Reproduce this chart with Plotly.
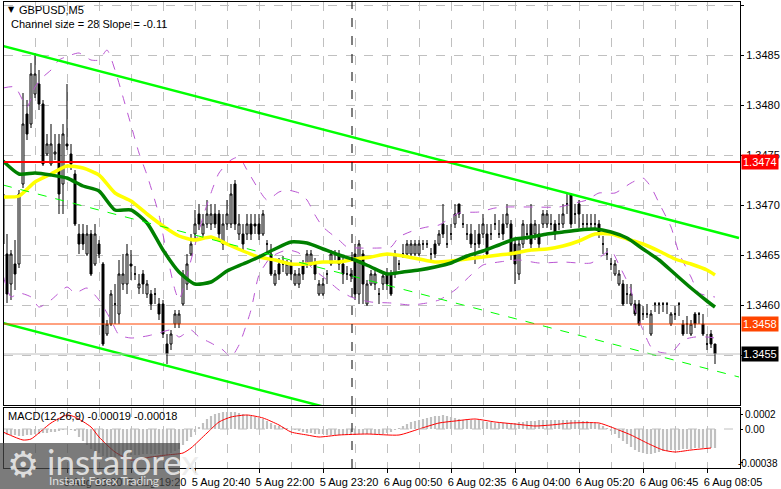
import plotly.graph_objects as go

W, H = 781, 489

# ---- GBPUSD M5 candles (one entry per bar, gaps in time are skipped like the terminal does)
opens = [1.34711, 1.34651, 1.34621, 1.34641, 1.34641, 1.34721, 1.34791, 1.34781, 1.34811, 1.34821,
         1.34801, 1.34751, 1.34741, 1.34751, 1.34761, 1.34721, 1.34761, 1.34751, 1.34731, 1.34671,
         1.34671, 1.34651, 1.34671, 1.34641, 1.34661, 1.34641, 1.34571, 1.34581, 1.34601, 1.34591,
         1.34621, 1.34621, 1.34641, 1.34631, 1.34617, 1.34631, 1.34611, 1.34611, 1.34611, 1.34601,
         1.34601, 1.34561, 1.34561, 1.34581, 1.34581, 1.34601, 1.34621, 1.34651, 1.34671, 1.34691,
         1.34671, 1.34681, 1.34681, 1.34691, 1.34691, 1.34661, 1.34681, 1.34681, 1.34721, 1.34671,
         1.34671, 1.34671, 1.34681, 1.34681, 1.34681, 1.34671, 1.34661, 1.34651, 1.34621, 1.34641,
         1.34641, 1.34631, 1.34641, 1.34621, 1.34621, 1.34641, 1.34641, 1.34641, 1.34641, 1.34611,
         1.34611, 1.34631, 1.34641, 1.34651, 1.34651, 1.34641, 1.34631, 1.34631, 1.34651, 1.34611,
         1.34651, 1.34601, 1.34621, 1.34621, 1.34611, 1.34621, 1.34631, 1.34631, 1.34631, 1.34641,
         1.34651, 1.34651, 1.34651, 1.34651, 1.34651, 1.34661, 1.34661, 1.34651, 1.34661, 1.34661,
         1.34681, 1.34661, 1.34671, 1.34681, 1.34701, 1.34681, 1.34671, 1.34671, 1.34661, 1.34671,
         1.34671, 1.34671, 1.34671, 1.34681, 1.34671, 1.34681, 1.34681, 1.34681, 1.34661, 1.34631,
         1.34661, 1.34671, 1.34681, 1.34671, 1.34671, 1.34681, 1.34681, 1.34681, 1.34681, 1.34681,
         1.34681, 1.34701, 1.34711, 1.34691, 1.34701, 1.34681, 1.34681, 1.34681, 1.34681, 1.34681,
         1.34661, 1.34651, 1.34641, 1.34631, 1.34621, 1.34621, 1.34611, 1.34601, 1.34601, 1.34601,
         1.34591, 1.34591, 1.34571, 1.34601, 1.34601, 1.34601, 1.34601, 1.34581, 1.34591, 1.34601,
         1.34581, 1.34581, 1.34571, 1.34591, 1.34591, 1.34581, 1.34561, 1.34571, 1.34561]
highs = [1.34715, 1.34671, 1.34655, 1.34665, 1.34715, 1.34812, 1.34805, 1.34842, 1.34852, 1.34835,
         1.34805, 1.34771, 1.34781, 1.34771, 1.34771, 1.34781, 1.34821, 1.34761, 1.34735, 1.34681,
         1.34681, 1.34680, 1.34675, 1.34681, 1.34665, 1.34643, 1.34585, 1.34615, 1.34621, 1.34645,
         1.34651, 1.34661, 1.34655, 1.34639, 1.34631, 1.34635, 1.34625, 1.34615, 1.34617, 1.34607,
         1.34605, 1.34571, 1.34575, 1.34595, 1.34595, 1.34635, 1.34651, 1.34671, 1.34695, 1.34701,
         1.34691, 1.34705, 1.34701, 1.34701, 1.34695, 1.34691, 1.34705, 1.34721, 1.34725, 1.34691,
         1.34681, 1.34691, 1.34691, 1.34691, 1.34691, 1.34695, 1.34665, 1.34661, 1.34635, 1.34647,
         1.34649, 1.34645, 1.34645, 1.34635, 1.34637, 1.34645, 1.34655, 1.34655, 1.34647, 1.34625,
         1.34627, 1.34635, 1.34655, 1.34655, 1.34655, 1.34647, 1.34639, 1.34637, 1.34661, 1.34665,
         1.34655, 1.34625, 1.34635, 1.34635, 1.34617, 1.34633, 1.34637, 1.34635, 1.34655, 1.34645,
         1.34661, 1.34665, 1.34665, 1.34665, 1.34665, 1.34665, 1.34665, 1.34657, 1.34665, 1.34675,
         1.34701, 1.34680, 1.34681, 1.34701, 1.34701, 1.34691, 1.34681, 1.34681, 1.34675, 1.34681,
         1.34691, 1.34681, 1.34681, 1.34691, 1.34685, 1.34691, 1.34701, 1.34685, 1.34665, 1.34665,
         1.34685, 1.34681, 1.34701, 1.34685, 1.34681, 1.34695, 1.34695, 1.34691, 1.34685, 1.34691,
         1.34701, 1.34711, 1.34711, 1.34701, 1.34705, 1.34691, 1.34691, 1.34691, 1.34691, 1.34685,
         1.34669, 1.34657, 1.34647, 1.34645, 1.34635, 1.34625, 1.34621, 1.34621, 1.34605, 1.34605,
         1.34599, 1.34601, 1.34595, 1.34603, 1.34603, 1.34603, 1.34603, 1.34593, 1.34599, 1.34603,
         1.34585, 1.34589, 1.34585, 1.34593, 1.34593, 1.34591, 1.34571, 1.34575, 1.34561]
lows = [1.34652, 1.34602, 1.34605, 1.34615, 1.34637, 1.34717, 1.34765, 1.34777, 1.34807, 1.34795,
        1.34739, 1.34749, 1.34739, 1.34745, 1.34691, 1.34691, 1.34755, 1.34735, 1.34679, 1.34651,
        1.34655, 1.34649, 1.34629, 1.34639, 1.34647, 1.34559, 1.34569, 1.34579, 1.34581, 1.34581,
        1.34615, 1.34611, 1.34625, 1.34625, 1.34611, 1.34611, 1.34607, 1.34595, 1.34601, 1.34585,
        1.34567, 1.34541, 1.34555, 1.34577, 1.34577, 1.34599, 1.34615, 1.34649, 1.34665, 1.34675,
        1.34665, 1.34677, 1.34675, 1.34677, 1.34665, 1.34655, 1.34675, 1.34677, 1.34675, 1.34665,
        1.34655, 1.34665, 1.34665, 1.34671, 1.34665, 1.34669, 1.34651, 1.34629, 1.34619, 1.34625,
        1.34633, 1.34629, 1.34625, 1.34619, 1.34617, 1.34625, 1.34637, 1.34639, 1.34625, 1.34609,
        1.34609, 1.34621, 1.34639, 1.34645, 1.34635, 1.34621, 1.34625, 1.34623, 1.34605, 1.34601,
        1.34601, 1.34599, 1.34619, 1.34615, 1.34601, 1.34615, 1.34615, 1.34609, 1.34627, 1.34635,
        1.34647, 1.34649, 1.34649, 1.34649, 1.34649, 1.34655, 1.34657, 1.34645, 1.34647, 1.34659,
        1.34667, 1.34657, 1.34665, 1.34677, 1.34687, 1.34677, 1.34665, 1.34657, 1.34641, 1.34657,
        1.34667, 1.34647, 1.34665, 1.34675, 1.34667, 1.34665, 1.34677, 1.34645, 1.34621, 1.34625,
        1.34657, 1.34665, 1.34657, 1.34665, 1.34657, 1.34677, 1.34677, 1.34675, 1.34665, 1.34675,
        1.34677, 1.34691, 1.34677, 1.34681, 1.34677, 1.34675, 1.34675, 1.34675, 1.34675, 1.34667,
        1.34651, 1.34645, 1.34635, 1.34629, 1.34619, 1.34599, 1.34601, 1.34599, 1.34589, 1.34579,
        1.34585, 1.34587, 1.34569, 1.34593, 1.34591, 1.34593, 1.34591, 1.34579, 1.34585, 1.34589,
        1.34569, 1.34571, 1.34569, 1.34577, 1.34581, 1.34569, 1.34555, 1.34557, 1.34541]
closes = [1.34661, 1.34611, 1.34651, 1.34631, 1.34711, 1.34781, 1.34771, 1.34831, 1.34831, 1.34801,
          1.34741, 1.34761, 1.34761, 1.34753, 1.34711, 1.34771, 1.34759, 1.34741, 1.34681, 1.34661,
          1.34661, 1.34671, 1.34631, 1.34671, 1.34651, 1.34561, 1.34581, 1.34611, 1.34601, 1.34631,
          1.34631, 1.34651, 1.34639, 1.34631, 1.34621, 1.34621, 1.34621, 1.34601, 1.34611, 1.34591,
          1.34571, 1.34551, 1.34571, 1.34591, 1.34591, 1.34631, 1.34641, 1.34661, 1.34681, 1.34681,
          1.34681, 1.34691, 1.34691, 1.34681, 1.34671, 1.34681, 1.34691, 1.34711, 1.34681, 1.34681,
          1.34661, 1.34681, 1.34671, 1.34679, 1.34671, 1.34691, 1.34661, 1.34631, 1.34631, 1.34631,
          1.34641, 1.34641, 1.34631, 1.34631, 1.34631, 1.34631, 1.34651, 1.34651, 1.34631, 1.34621,
          1.34621, 1.34631, 1.34651, 1.34651, 1.34641, 1.34631, 1.34631, 1.34629, 1.34611, 1.34661,
          1.34621, 1.34621, 1.34631, 1.34631, 1.34611, 1.34629, 1.34621, 1.34611, 1.34651, 1.34641,
          1.34651, 1.34661, 1.34661, 1.34661, 1.34661, 1.34661, 1.34661, 1.34651, 1.34651, 1.34671,
          1.34671, 1.34661, 1.34671, 1.34691, 1.34691, 1.34681, 1.34671, 1.34661, 1.34661, 1.34661,
          1.34681, 1.34651, 1.34671, 1.34681, 1.34671, 1.34671, 1.34691, 1.34651, 1.34641, 1.34661,
          1.34681, 1.34671, 1.34661, 1.34681, 1.34661, 1.34691, 1.34691, 1.34681, 1.34671, 1.34681,
          1.34691, 1.34701, 1.34681, 1.34691, 1.34691, 1.34681, 1.34681, 1.34681, 1.34681, 1.34671,
          1.34661, 1.34651, 1.34641, 1.34641, 1.34631, 1.34601, 1.34611, 1.34611, 1.34591, 1.34581,
          1.34591, 1.34591, 1.34591, 1.34601, 1.34601, 1.34601, 1.34601, 1.34591, 1.34591, 1.34601,
          1.34571, 1.34581, 1.34581, 1.34581, 1.34591, 1.34571, 1.34561, 1.34561, 1.34551]
bars = list(range(len(closes)))

# ---- moving averages, read every 4th bar
ma_idx = [0, 4, 8, 12, 16, 20, 24, 28, 32, 36, 40, 44, 48, 52, 56, 60, 64, 68, 72, 76, 80, 84, 88,
          92, 96, 100, 104, 108, 112, 116, 120, 124, 128, 132, 136, 140, 144, 148, 152, 156, 160,
          164, 168, 172, 176, 178]
ma_green = [1.34744, 1.34731, 1.34732, 1.34730, 1.34727, 1.34719, 1.34714, 1.34695, 1.34695, 1.34682,
            1.34655, 1.34633, 1.34621, 1.34623, 1.34634, 1.34641, 1.34648, 1.34656, 1.34663, 1.34662,
            1.34656, 1.34650, 1.34645, 1.34638, 1.34631, 1.34633, 1.34635, 1.34638, 1.34642, 1.34649,
            1.34654, 1.34660, 1.34666, 1.34668, 1.34671, 1.34673, 1.34675, 1.34676, 1.34673, 1.34667,
            1.34656, 1.34645, 1.34631, 1.34617, 1.34604, 1.34598]
ma_yellow = [1.34708, 1.34709, 1.34723, 1.34731, 1.34739, 1.34737, 1.34730, 1.34712, 1.34704, 1.34691,
             1.34679, 1.34669, 1.34665, 1.34668, 1.34661, 1.34654, 1.34648, 1.34645, 1.34641, 1.34641,
             1.34643, 1.34643, 1.34646, 1.34648, 1.34651, 1.34649, 1.34646, 1.34643, 1.34644, 1.34646,
             1.34648, 1.34650, 1.34652, 1.34655, 1.34656, 1.34659, 1.34664, 1.34671, 1.34671, 1.34666,
             1.34661, 1.34654, 1.34646, 1.34641, 1.34635, 1.34630]

# ---- bollinger bands (dashed violet)
bb_up_idx = [0, 3, 6, 8, 10, 12, 14, 17, 19, 22, 24, 26, 28, 30, 32, 34, 36, 39, 41, 43, 44, 46, 48,
             50, 52, 54, 57, 59, 61, 64, 66, 69, 71, 74, 76, 78, 80, 84, 86, 89, 94, 97, 99, 103, 106,
             109, 114, 119, 123, 126, 132, 139, 143, 146, 149, 153, 157, 160, 162, 164, 167, 169, 172,
             174, 178]
bb_up = [1.34817, 1.34818, 1.34798, 1.34818, 1.34828, 1.34835, 1.34845, 1.34850, 1.34852, 1.34845,
         1.34845, 1.34855, 1.34835, 1.34808, 1.34780, 1.34752, 1.34730, 1.34690, 1.34650, 1.34615,
         1.34605, 1.34630, 1.34660, 1.34688, 1.34712, 1.34732, 1.34745, 1.34748, 1.34735, 1.34715,
         1.34705, 1.34713, 1.34715, 1.34712, 1.34705, 1.34690, 1.34678, 1.34665, 1.34658, 1.34657,
         1.34657, 1.34658, 1.34668, 1.34675, 1.34678, 1.34680, 1.34692, 1.34693, 1.34697, 1.34698,
         1.34698, 1.34698, 1.34702, 1.34705, 1.34712, 1.34712, 1.34722, 1.34727, 1.34718, 1.34702,
         1.34678, 1.34652, 1.34628, 1.34612, 1.34608]
bb_lo_idx = [0, 2, 4, 7, 9, 12, 16, 18, 21, 24, 27, 29, 32, 36, 39, 42, 44, 47, 49, 52, 55, 57, 59,
             62, 64, 67, 71, 74, 77, 81, 84, 87, 92, 97, 102, 106, 109, 113, 117, 120, 124, 129, 134,
             140, 147, 150, 152, 154, 157, 158, 160, 162, 164, 167, 170, 173, 176, 178]
bb_lo = [1.34630, 1.34608, 1.34612, 1.34608, 1.34598, 1.34605, 1.34618, 1.34612, 1.34617, 1.34605,
         1.34585, 1.34570, 1.34567, 1.34569, 1.34572, 1.34575, 1.34568, 1.34575, 1.34568, 1.34562,
         1.34555, 1.34548, 1.34560, 1.34595, 1.34630, 1.34648, 1.34655, 1.34652, 1.34638, 1.34625,
         1.34615, 1.34608, 1.34603, 1.34602, 1.34600, 1.34602, 1.34605, 1.34615, 1.34630, 1.34640,
         1.34643, 1.34645, 1.34642, 1.34643, 1.34642, 1.34650, 1.34655, 1.34640, 1.34615, 1.34595,
         1.34575, 1.34558, 1.34553, 1.34552, 1.34565, 1.34568, 1.34568, 1.34567]

# ---- regression channel (size 28, slope -0.11)
chan_idx = [0, 184]
chan_upper = [1.34859, 1.34667]
chan_mid = [1.34720, 1.34528]
chan_lower = [1.34582, 1.34390]

levels = [(1.34743, "#FF0000", 2, "1.3474"), (1.34581, "#FF4500", 1, "1.3458")]
bid = 1.34551

# ---- MACD(12,26,9)
macd_main = [-0.00006, -0.00006, -0.00006, -0.00006, -0.00007, -0.00007, -0.00006, -0.00006, -0.00005, -0.00005,
             -0.00004, -0.00004, -0.00003, -0.00003, -0.00002, -0.00001, 0.0, -0.00001, -0.00002, -0.00008,
             -0.00012, -0.00016, -0.00020, -0.00022, -0.00024, -0.00027, -0.00028, -0.00028, -0.00028, -0.00027,
             -0.00027, -0.00026, -0.00026, -0.00026, -0.00026, -0.00025, -0.00025, -0.00025, -0.00025, -0.00025,
             -0.00026, -0.00026, -0.00024, -0.00022, -0.00020, -0.00016, -0.00012, -0.00008, -0.00003, 0.00002,
             0.00006, 0.00010, 0.00013, 0.00015, 0.00016, 0.00017, 0.00017, 0.00017, 0.00017, 0.00016,
             0.00015, 0.00014, 0.00013, 0.00012, 0.00011, 0.00010, 0.00008, 0.00006, 0.00004, 0.00003,
             0.00002, 0.00001, 0.0, -0.00001, -0.00002, -0.00003, -0.00004, -0.00004, -0.00005, -0.00005,
             -0.00005, -0.00006, -0.00006, -0.00006, -0.00006, -0.00006, -0.00006, -0.00006, -0.00006, -0.00005,
             -0.00005, -0.00005, -0.00005, -0.00005, -0.00005, -0.00005, -0.00004, -0.00003, -0.00001, 0.00001,
             0.00003, 0.00005, 0.00007, 0.00008, 0.00009, 0.00010, 0.00011, 0.00012, 0.00013, 0.00013,
             0.00014, 0.00013, 0.00012, 0.00011, 0.00010, 0.00009, 0.00009, 0.00009, 0.00009, 0.00009,
             0.00008, 0.00007, 0.00007, 0.00006, 0.00006, 0.00006, 0.00006, 0.00006, 0.00006, 0.00007,
             0.00007, 0.00008, 0.00008, 0.00008, 0.00009, 0.00009, 0.00009, 0.00009, 0.00009, 0.00009,
             0.00009, 0.00009, 0.00009, 0.00009, 0.00009, 0.00008, 0.00008, 0.00007, 0.00006, 0.00005,
             0.00003, 0.00001, -0.00002, -0.00005, -0.00009, -0.00012, -0.00015, -0.00018, -0.00021, -0.00023,
             -0.00024, -0.00025, -0.00025, -0.00024, -0.00023, -0.00022, -0.00022, -0.00021, -0.00021, -0.00021,
             -0.00020, -0.00020, -0.00020, -0.00019, -0.00019, -0.00019, -0.00019, -0.00019, -0.00019]
sig_idx = [0, 5, 7, 12, 16, 18, 22, 24, 28, 32, 37, 41, 45, 47, 51, 54, 57, 61, 65, 69, 72, 76, 79,
           84, 91, 99, 104, 109, 113, 118, 123, 128, 133, 137, 142, 149, 152, 157, 161, 165, 168,
           172, 177]
macd_signal = [-0.00003, -0.00011, -0.00010, 0.00006, 0.00014, 0.00012, 0.00002, -0.00008, -0.00023,
               -0.00031, -0.00028, -0.00026, -0.00024, -0.00019, -0.00004, 0.00007, 0.00012, 0.00014,
               0.00011, 0.00004, -0.00003, -0.00006, -0.00008, -0.00006, -0.00005, -0.00006, 0.0,
               0.00006, 0.00008, 0.00010, 0.00007, 0.00005, 0.00003, 0.00004, 0.00006, 0.00006,
               0.00002, -0.00006, -0.00014, -0.00021, -0.00023, -0.00021, -0.00019]

label_idx = [0, 16, 32, 48, 64, 80, 96, 112, 128, 144, 160, 176]
time_labels = ["5 Aug 2025", "5 Aug 18:00", "5 Aug 19:20", "5 Aug 20:40", "5 Aug 22:00",
               "5 Aug 23:20", "6 Aug 00:50", "6 Aug 02:35", "6 Aug 04:00", "6 Aug 05:20",
               "6 Aug 06:45", "6 Aug 08:05"]
day_break = 87.25

price_ticks = [1.3455, 1.3460, 1.3465, 1.3470, 1.3475, 1.3480, 1.3485, 1.3490]
# 1.3455 sits under the bid box, so its own label is left blank
price_text = ["", "1.3460", "1.3465", "1.3470", "1.3475", "1.3480", "1.3485", "1.3490"]


def px(x):
    return x / W


def py(y):
    return 1 - y / H


FONT = "Liberation Sans"
GRID = "#C0C0C0"

fig = go.Figure()

fig.add_trace(go.Candlestick(
    x=bars, open=opens, high=highs, low=lows, close=closes,
    increasing=dict(line=dict(color="black", width=1), fillcolor="white"),
    decreasing=dict(line=dict(color="black", width=1), fillcolor="black"),
    whiskerwidth=0, xaxis="x", yaxis="y", hoverinfo="skip"))

for yy, ii in ((bb_up, bb_up_idx), (bb_lo, bb_lo_idx)):
    fig.add_trace(go.Scatter(x=ii, y=yy, mode="lines",
                             line=dict(color="#BA55D3", width=1, dash="dash", shape="spline", smoothing=0.6),
                             xaxis="x", yaxis="y", hoverinfo="skip"))

fig.add_trace(go.Scatter(x=ma_idx, y=ma_yellow, mode="lines",
                         line=dict(color="#FFFF00", width=3.5, shape="spline", smoothing=0.6),
                         xaxis="x", yaxis="y", hoverinfo="skip"))
fig.add_trace(go.Scatter(x=ma_idx, y=ma_green, mode="lines",
                         line=dict(color="#008000", width=3.5, shape="spline", smoothing=0.6),
                         xaxis="x", yaxis="y", hoverinfo="skip"))

fig.add_trace(go.Scatter(x=chan_idx, y=chan_mid, mode="lines",
                         line=dict(color="#00FF00", width=1, dash="dash"),
                         xaxis="x", yaxis="y", hoverinfo="skip"))
for yy in (chan_upper, chan_lower):
    fig.add_trace(go.Scatter(x=chan_idx, y=yy, mode="lines",
                             line=dict(color="#00FF00", width=2.5),
                             xaxis="x", yaxis="y", hoverinfo="skip"))

# MACD panel
fig.add_trace(go.Bar(x=bars, y=macd_main, width=0.55, marker=dict(color=GRID, line=dict(width=0)),
                     xaxis="x2", yaxis="y2", hoverinfo="skip"))
fig.add_trace(go.Scatter(x=sig_idx, y=macd_signal, mode="lines",
                         line=dict(color="#FF0000", width=1, shape="spline", smoothing=0.6),
                         xaxis="x2", yaxis="y2", hoverinfo="skip"))

shapes = []
for val, col, wdt, _ in levels:
    shapes.append(dict(type="line", xref="x domain", yref="y", x0=0, x1=1, y0=val, y1=val,
                       line=dict(color=col, width=wdt)))
shapes.append(dict(type="line", xref="x domain", yref="y", x0=0, x1=1, y0=bid, y1=bid,
                   line=dict(color=GRID, width=1)))
shapes.append(dict(type="line", xref="x2 domain", yref="y2", x0=0, x1=1, y0=0, y1=0,
                   line=dict(color=GRID, width=1, dash="dash")))
for yr in ("y domain", "y2 domain"):
    shapes.append(dict(type="line", xref="x", yref=yr, x0=day_break, x1=day_break, y0=0, y1=1,
                       line=dict(color="black", width=1, dash="dash")))
# watermark plate
shapes.append(dict(type="rect", xref="paper", yref="paper", x0=0, x1=px(180), y0=0, y1=py(443),
                   fillcolor="rgba(72,72,72,0.72)", line=dict(width=0), layer="above"))

annotations = []
for val, col, _, txt in levels:
    annotations.append(dict(xref="paper", yref="y", x=px(741), y=val, text=txt, showarrow=False,
                            xanchor="left", yanchor="middle", bgcolor=col, borderpad=1,
                            font=dict(family=FONT, size=11, color="white")))
annotations.append(dict(xref="paper", yref="y", x=px(741), y=bid, text="1.3455", showarrow=False,
                        xanchor="left", yanchor="middle", bgcolor="black", borderpad=1,
                        font=dict(family=FONT, size=11, color="white")))
annotations += [
    dict(xref="paper", yref="paper", x=px(780), y=py(463), text="-0.00038", showarrow=False,
         xanchor="right", yanchor="middle", font=dict(family=FONT, size=10, color="black")),
    dict(xref="paper", yref="paper", x=px(6), y=py(10), text="▼", showarrow=False,
         xanchor="left", yanchor="middle", font=dict(family="DejaVu Sans", size=8, color="black")),
    dict(xref="paper", yref="paper", x=px(17), y=py(10), text="GBPUSD,M5", showarrow=False,
         xanchor="left", yanchor="middle", font=dict(family=FONT, size=11, color="black")),
    dict(xref="paper", yref="paper", x=px(9), y=py(24), text="Channel size = 28 Slope = -0.11",
         showarrow=False, xanchor="left", yanchor="middle", font=dict(family=FONT, size=11, color="black")),
    dict(xref="paper", yref="paper", x=px(6), y=py(416), text="MACD(12,26,9) -0.00019 -0.00018",
         showarrow=False, xanchor="left", yanchor="middle", font=dict(family=FONT, size=11, color="black")),
    dict(xref="paper", yref="paper", x=px(5), y=py(464), text="⚙", showarrow=False,
         xanchor="left", yanchor="middle", font=dict(family="DejaVu Sans", size=36, color="rgba(235,235,235,0.9)")),
    dict(xref="paper", yref="paper", x=px(45), y=py(461), text="instaforex", showarrow=False,
         xanchor="left", yanchor="middle", font=dict(family="Lato", size=35, color="rgba(235,235,235,0.9)")),
    dict(xref="paper", yref="paper", x=px(47), y=py(480), text="Instant Forex Trading", showarrow=False,
         xanchor="left", yanchor="middle", font=dict(family="Lato", size=12, color="rgba(235,235,235,0.9)")),
]

xdom = [px(4), px(740)]
axis_common = dict(showline=True, mirror=True, linecolor="black", linewidth=1, zeroline=False,
                   automargin=False)

fig.update_layout(
    width=W, height=H, autosize=False, margin=dict(l=0, r=0, t=0, b=0),
    paper_bgcolor="white", plot_bgcolor="white", showlegend=False,
    font=dict(family=FONT, size=11, color="black"),
    xaxis=dict(domain=xdom, range=[0.25, 184.25], anchor="y", showticklabels=False, ticks="",
               tickmode="linear", tick0=0, dtick=8, showgrid=True, gridcolor=GRID, griddash="dash",
               rangeslider=dict(visible=False), **axis_common),
    yaxis=dict(domain=[py(405), py(2)], range=[1.34500, 1.34903], anchor="x", side="right",
               tickmode="array", tickvals=price_ticks, ticktext=price_text,
               ticks="outside", ticklen=3, tickcolor="black", showgrid=True, gridcolor=GRID,
               griddash="dash", tickfont=dict(family=FONT, size=11), **axis_common),
    xaxis2=dict(domain=xdom, range=[0.25, 184.25], anchor="y2", matches="x",
                tickmode="array", tickvals=label_idx, ticktext=time_labels, ticks="outside",
                ticklen=4, tickcolor="black", ticklabelshift=26, ticklabelstandoff=0,
                showgrid=True, gridcolor=GRID, griddash="dash",
                minor=dict(tickmode="linear", tick0=0, dtick=8, showgrid=True, gridcolor=GRID,
                           griddash="dash", ticks=""),
                tickfont=dict(family=FONT, size=11), **axis_common),
    yaxis2=dict(domain=[py(468), py(408)], range=[-0.00039, 0.00021], anchor="x2", side="right",
                tickmode="array", tickvals=[0.00015, 0.0, -0.00033],
                ticktext=["0.0002", "0.00", ""], ticks="outside", ticklen=2,
                tickcolor="black", showgrid=False, tickfont=dict(family=FONT, size=10), **axis_common),
    bargap=0.3,
    shapes=shapes, annotations=annotations,
)

# the page body has a default margin; drop it so the figure sits at the window corner
fig.write_html("out.html", config={"displayModeBar": False, "staticPlot": True},
               post_script="document.body.style.margin='0';document.body.style.overflow='hidden';")
